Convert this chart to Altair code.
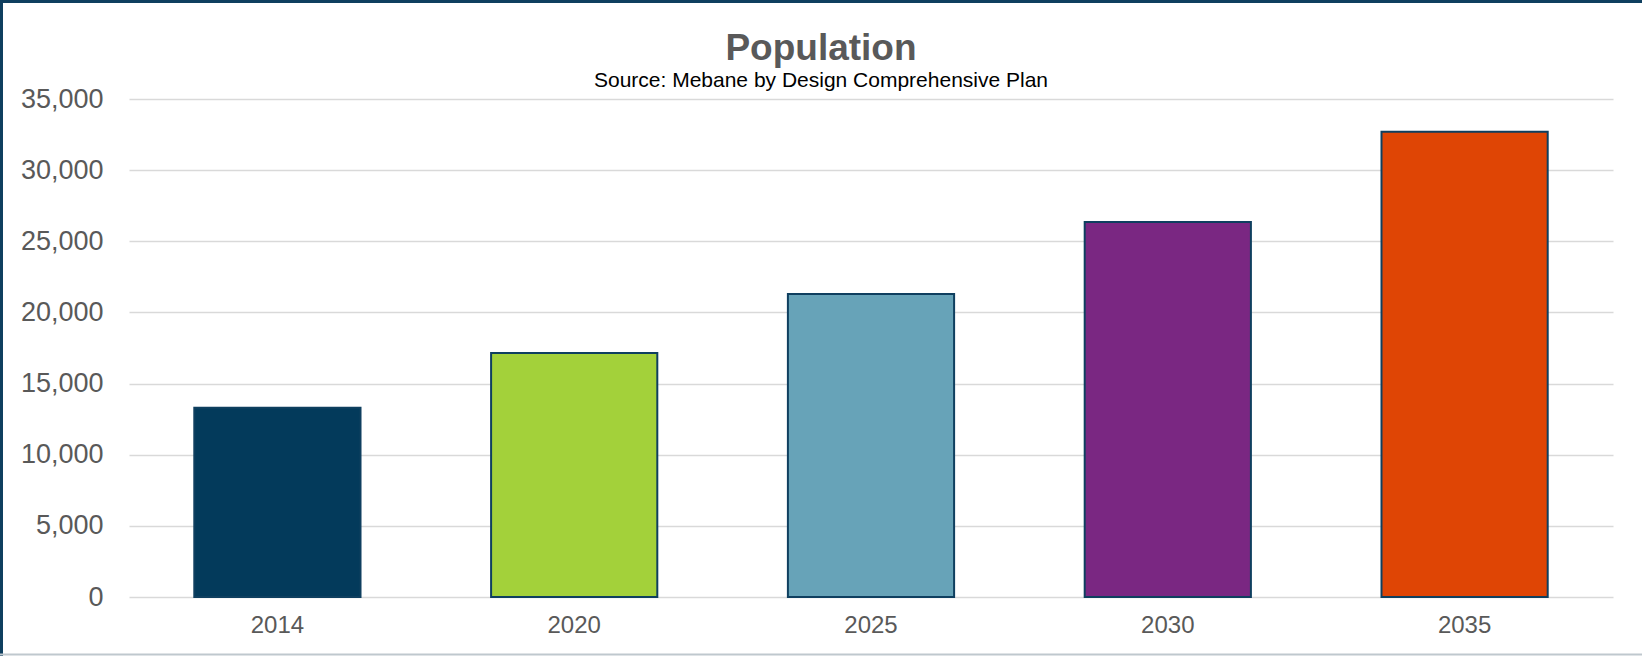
import altair as alt
import pandas as pd

years = ["2014", "2020", "2025", "2030", "2035"]
population = [13300, 17150, 21300, 26350, 32700]
bar_colors = ["#033A5B", "#A3D13A", "#67A3B8", "#7A2782", "#DF4505"]

df = pd.DataFrame({"Year": years, "Population": population})
one = pd.DataFrame({"k": [0]})

FONT = "Liberation Sans"
W, H = 1484, 498

bars = alt.Chart(df).mark_bar(stroke="#0F3F5F", strokeWidth=2).encode(
    x=alt.X("Year:N", sort=years, title=None,
            scale=alt.Scale(paddingInner=0.44, paddingOuter=0.22),
            axis=alt.Axis(labelAngle=0, labelFontSize=24, labelColor="#595959",
                          labelFont=FONT, labelPadding=16, ticks=False,
                          domain=False, grid=False)),
    y=alt.Y("Population:Q", title=None,
            scale=alt.Scale(domain=[0, 35000]),
            axis=alt.Axis(values=list(range(0, 35001, 5000)), format=",.0f",
                          labelFontSize=27, labelColor="#595959", labelFont=FONT,
                          labelPadding=26, ticks=False, domain=False,
                          grid=True, gridColor="#D9D9D9", gridWidth=1.5)),
    color=alt.Color("Year:N", sort=years,
                    scale=alt.Scale(domain=years, range=bar_colors), legend=None),
)

left_border = alt.Chart(one).mark_rule(color="#0F3F5F", strokeWidth=3).encode(
    x=alt.value(-127.5), y=alt.value(-99), y2=alt.value(H + 59))
top_border = alt.Chart(one).mark_rule(color="#0F3F5F", strokeWidth=3).encode(
    x=alt.value(-129), x2=alt.value(W + 29), y=alt.value(-97.5))
bottom_border = alt.Chart(one).mark_rule(color="#BFC8CE", strokeWidth=2).encode(
    x=alt.value(-129), x2=alt.value(W + 29), y=alt.value(H + 57.5))

chart = alt.layer(left_border, top_border, bottom_border, bars).properties(
    width=W, height=H,
    title=alt.TitleParams(
        text="Population",
        subtitle="Source: Mebane by Design Comprehensive Plan",
        anchor="middle", dx=-50, dy=103, offset=10,
        font=FONT, fontSize=37, fontWeight="bold", color="#595959",
        subtitleFont=FONT, subtitleFontSize=21, subtitleColor="#000000",
        subtitlePadding=2),
    autosize=alt.AutoSizeParams(type="none"),
    padding={"left": 129, "top": 99, "right": 29, "bottom": 59},
    background="white",
).configure_view(stroke=None)

chart.save("out.html", embed_options={"renderer": "svg", "actions": False})
